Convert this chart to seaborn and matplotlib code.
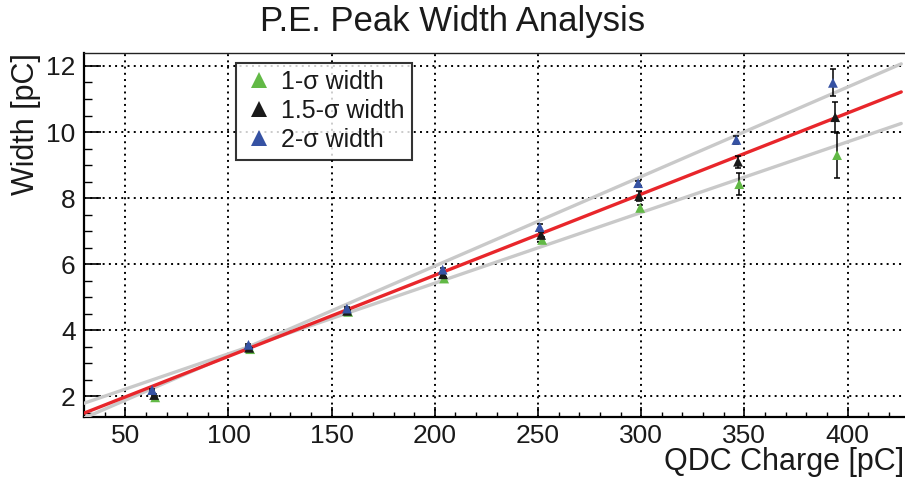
import numpy as np
import pandas as pd
import matplotlib
matplotlib.use("Agg")
import matplotlib.pyplot as plt
from matplotlib.lines import Line2D
import seaborn as sns

# ---- data ----
series = ["1-σ width", "1.5-σ width", "2-σ width"]
x_1sig = [64.5, 110.5, 158.0, 204.5, 252.0, 299.5, 347.5, 394.9]
x_15sig = [64.0, 110.0, 157.5, 204.0, 251.5, 299.0, 346.9, 394.0]
x_2sig = [63.0, 109.7, 157.4, 203.8, 250.8, 298.5, 346.1, 392.9]
y_1sig = [1.96, 3.42, 4.55, 5.56, 6.73, 7.70, 8.42, 9.30]
y_15sig = [2.03, 3.46, 4.58, 5.69, 6.88, 8.06, 9.10, 10.45]
y_2sig = [2.18, 3.55, 4.65, 5.83, 7.12, 8.45, 9.76, 11.49]
e_1sig = [0.03, 0.04, 0.05, 0.06, 0.08, 0.10, 0.33, 0.68]
e_15sig = [0.03, 0.04, 0.05, 0.06, 0.08, 0.14, 0.18, 0.45]
e_2sig = [0.03, 0.04, 0.05, 0.06, 0.08, 0.08, 0.12, 0.41]
fit_slope = [0.02141, 0.02458, 0.02711]
fit_intercept = [1.138, 0.743, 0.517]
fit_range = [30.0, 426.0]
x_ticks = [50, 100, 150, 200, 250, 300, 350, 400]
y_ticks = [2, 4, 6, 8, 10, 12]

colors = {"1-σ width": "#62b946", "1.5-σ width": "#1a1a1a", "2-σ width": "#3652a3"}
fit_colors = ["#c9c9c9", "#e8262b", "#c9c9c9"]

xs = [x_1sig, x_15sig, x_2sig]
ys = [y_1sig, y_15sig, y_2sig]
es = [e_1sig, e_15sig, e_2sig]

df = pd.concat([pd.DataFrame({"x": x, "y": y, "err": e, "series": s})
                for x, y, e, s in zip(xs, ys, es, series)], ignore_index=True)

sns.set_theme(style="white")
plt.rcParams["font.family"] = ["Liberation Sans", "DejaVu Sans"]

fig = plt.figure(figsize=(9.05, 4.79), dpi=100)
W, H = 905, 479
ax_l, ax_r, ax_t, ax_b = 84, 909.5, 52.7, 416.7
ax = fig.add_axes([ax_l / W, 1 - ax_b / H, (ax_r - ax_l) / W, (ax_b - ax_t) / H])
ax.set_facecolor("white")

# grid
for xv in x_ticks:
    ax.axvline(xv, color="black", lw=1.4, ls=(0, (1, 2.2)), zorder=1)
for yv in y_ticks:
    ax.axhline(yv, color="black", lw=1.4, ls=(0, (1, 2.2)), zorder=1)

# fit lines
fx = np.linspace(fit_range[0], fit_range[1], 50)
order = [0, 2, 1]
for i in order:
    fdf = pd.DataFrame({"x": fx, "y": fit_intercept[i] + fit_slope[i] * fx})
    sns.lineplot(data=fdf, x="x", y="y", ax=ax, color=fit_colors[i], lw=2.4,
                 zorder=3, legend=False)

# error bars (black)
for s in series:
    d = df[df["series"] == s]
    ax.errorbar(d["x"], d["y"], yerr=d["err"], fmt="none", ecolor="black",
                elinewidth=1.1, capsize=2.2, capthick=1.1, zorder=4)

sns.scatterplot(data=df, x="x", y="y", hue="series", palette=colors, marker="^",
                s=50, edgecolor="none", linewidth=0, ax=ax, legend=False, zorder=5)

ax.set_xlim(30, 430)
ax.set_ylim(1.373, 12.403)
ax.set_xticks(x_ticks)
ax.set_yticks(y_ticks)
ax.set_xticks(np.arange(30, 431, 10), minor=True)
ax.set_yticks(np.arange(1.5, 12.41, 0.5), minor=True)
ax.set_xticklabels([str(v) for v in x_ticks], fontsize=19)
ax.set_yticklabels([str(v) for v in y_ticks], fontsize=19)
ax.tick_params(axis="x", which="major", direction="in", length=7.5, width=1.2,
               color="black", pad=5, labelcolor="#1a1a1a")
ax.tick_params(axis="x", which="minor", direction="in", length=3.8, width=1.0,
               color="black")
ax.tick_params(axis="y", which="major", direction="in", length=12.5, width=1.2,
               color="black", pad=6, labelcolor="#1a1a1a")
ax.tick_params(axis="y", which="minor", direction="in", length=6, width=1.0,
               color="black")
ax.tick_params(left=True, bottom=True, which="both")

for side in ["left", "bottom"]:
    ax.spines[side].set_color("black")
    ax.spines[side].set_linewidth(1.6)
ax.spines["top"].set_color("#222222")
ax.spines["top"].set_linewidth(1.0)
ax.spines["right"].set_visible(False)

ax.set_xlabel("QDC Charge [pC]", fontsize=22, loc="right", color="#1a1a1a")
ax.xaxis.set_label_coords((904 - ax_l) / (ax_r - ax_l), -(462 - ax_b) / (ax_b - ax_t))
ax.xaxis.label.set_va("center")
ax.set_ylabel("Width [pC]", fontsize=22, loc="top", color="#1a1a1a")
ax.yaxis.set_label_coords(-(ax_l - 26) / (ax_r - ax_l), 1.0)
ax.yaxis.label.set_va("center")

fig.text(0.5, 1 - 22 / H, "P.E. Peak Width Analysis", fontsize=25, ha="center",
         va="center", color="#1a1a1a")

handles = [Line2D([0], [0], marker="^", ls="none", color=colors[s], markersize=11,
                  markeredgewidth=0, label=s) for s in series]
leg = ax.legend(handles=handles, loc="upper left",
                bbox_to_anchor=((236 - ax_l) / (ax_r - ax_l), (ax_b - 62.7) / (ax_b - ax_t)),
                borderaxespad=0, fontsize=18, frameon=True, fancybox=False,
                edgecolor="black", handletextpad=0.3, handlelength=1.2,
                labelspacing=0.2, borderpad=0.3)
leg.get_frame().set_linewidth(1.5)
for t in leg.get_texts():
    t.set_color("#1a1a1a")
leg.set_zorder(10)

fig.savefig("out.png", dpi=100, facecolor="white")
